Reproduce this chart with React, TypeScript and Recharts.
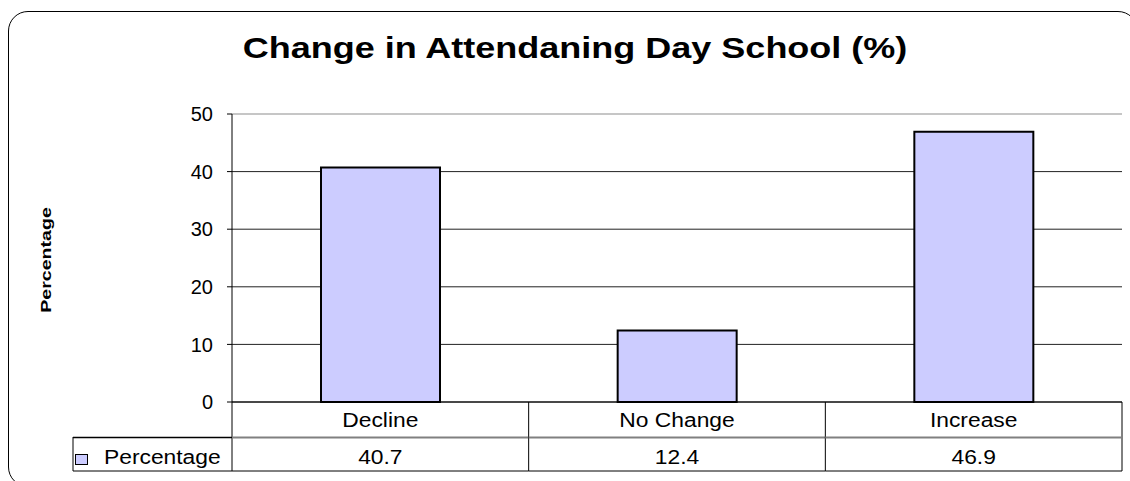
import { BarChart, Bar, XAxis, YAxis, CartesianGrid, ReferenceLine } from 'recharts';

const categories = ['Decline', 'No Change', 'Increase'];
const percentage = [40.7, 12.4, 46.9];
const yTicks = [0, 10, 20, 30, 40, 50];
const seriesName = 'Percentage';

const data = categories.map((category, i) => ({ category, value: percentage[i] }));

const FONT = 'Arial, "Liberation Sans", sans-serif';
const STRETCH = 1.17; // the source image is a bit wider than tall

// Category row, value row and the legend key of the data table under the plot
function TableTick({ x, y, payload, index }: any) {
  const i = payload?.index ?? index;
  const half = payload?.offset ?? 148;
  const left = x - half;
  const right = x + half;
  const isLast = i === categories.length - 1;
  const keyLeft = left - 159;
  return (
    <g>
      <line x1={left} x2={left} y1={y} y2={y + 69} stroke="#000" />
      {isLast && <line x1={right} x2={right} y1={y} y2={y + 69} stroke="#000" />}
      <line x1={left} x2={right} y1={y + 35.5} y2={y + 35.5} stroke="#808080" strokeWidth={2} />
      <line x1={left} x2={right} y1={y + 69} y2={y + 69} stroke="#000" />
      <text
        transform={`translate(${x},${y + 24.5}) scale(${STRETCH},1)`}
        textAnchor="middle"
        fontSize={19.5}
        fontFamily={FONT}
        fill="#000"
      >
        {payload.value}
      </text>
      <text
        transform={`translate(${x},${y + 62}) scale(${STRETCH},1)`}
        textAnchor="middle"
        fontSize={19.5}
        fontFamily={FONT}
        fill="#000"
      >
        {percentage[i]}
      </text>
      {i === 0 && (
        <g>
          <line x1={keyLeft} x2={left} y1={y + 35.5} y2={y + 35.5} stroke="#000" strokeWidth={1.5} />
          <line x1={keyLeft} x2={keyLeft} y1={y + 35} y2={y + 69} stroke="#000" />
          <line x1={keyLeft} x2={left} y1={y + 69} y2={y + 69} stroke="#000" />
          <rect x={keyLeft + 2.5} y={y + 52.5} width={12} height={10} fill="#CCCCFF" stroke="#000" />
          <text
            transform={`translate(${keyLeft + 31},${y + 62}) scale(${STRETCH},1)`}
            fontSize={19.5}
            fontFamily={FONT}
            fill="#000"
          >
            {seriesName}
          </text>
        </g>
      )}
    </g>
  );
}

function AxisTitle({ viewBox }: any) {
  const cx = viewBox.x + 14.5;
  const cy = viewBox.y + viewBox.height / 2 + 2;
  return (
    <text
      transform={`translate(${cx},${cy}) rotate(-90) scale(1.4,1)`}
      textAnchor="middle"
      dominantBaseline="central"
      fontSize={14}
      fontWeight="bold"
      fontFamily={FONT}
      fill="#000"
    >
      {seriesName}
    </text>
  );
}

export default function App() {
  return (
    <div style={{ position: 'absolute', left: 0, top: 0, width: 1130, height: 481, background: '#fff', overflow: 'hidden' }}>
      <div
        style={{
          position: 'absolute',
          left: 8,
          top: 11,
          width: 1128,
          height: 474,
          border: '1.5px solid #000',
          borderRadius: 20,
        }}
      />
      <div
        style={{
          position: 'absolute',
          left: 0,
          top: 31,
          width: 1150,
          textAlign: 'center',
          fontFamily: FONT,
          fontWeight: 'bold',
          fontSize: 30,
          lineHeight: 'normal',
          color: '#000',
          transform: 'scaleX(1.2)',
        }}
      >
        Change in Attendaning Day School (%)
      </div>
      <BarChart
        width={1130}
        height={481}
        data={data}
        margin={{ top: 114, right: 8, bottom: 10, left: 32 }}
        barCategoryGap="30%"
        style={{ position: 'absolute', left: 0, top: 0 }}
      >
        <CartesianGrid vertical={false} stroke="#222" />
        <ReferenceLine y={50} stroke="#d9d9d9" strokeWidth={1.5} />
        <XAxis
          dataKey="category"
          height={69}
          tickSize={0}
          tickMargin={0}
          axisLine={{ stroke: '#000' }}
          tickLine={false}
          tick={<TableTick />}
          interval={0}
        />
        <YAxis
          width={200}
          domain={[0, 50]}
          ticks={yTicks}
          tickSize={5}
          tickMargin={14}
          axisLine={{ stroke: '#000' }}
          tickLine={{ stroke: '#000' }}
          tick={{ fill: '#000', fontSize: 20, fontFamily: FONT }}
          label={{ content: <AxisTitle /> }}
        />
        <Bar dataKey="value" name={seriesName} fill="#CCCCFF" stroke="#000" strokeWidth={2} isAnimationActive={false} />
      </BarChart>
    </div>
  );
}
